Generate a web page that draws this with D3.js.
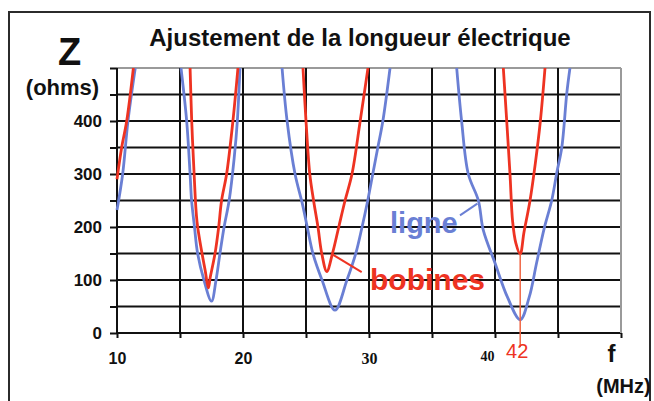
<!DOCTYPE html>
<html>
<head>
<meta charset="utf-8">
<script src="https://cdn.jsdelivr.net/npm/d3@7"></script>
<style>
  html, body { margin: 0; padding: 0; background: #fff; }
  svg { display: block; font-family: "Liberation Sans", Arial, sans-serif; }
</style>
</head>
<body>
<svg id="chart" width="654" height="401"></svg>
<script>
// Axis ticks and labels
const freqTicks = [10, 15, 20, 25, 30, 35, 40, 45, 50];
const freqLabels = [10, 20, 30, 40];
const zTicks = [0, 50, 100, 150, 200, 250, 300, 350, 400, 450, 500];
const zLabels = [0, 100, 200, 300, 400];

// Impedance of the line alone (null = curve leaves the top of the chart)
const ligneFreq = [10, 10.45, 10.87, 11.45, null,
  15.08, 15.53, 15.8, 15.92, 16.15, 16.4, 16.9, 17.5, 17.86, 18.17, 18.5, 18.9, 19.3, 19.55, 19.76, null,
  23.1, 23.5, 24.13, 24.7, 25.1, 25.55, 26.27, 27.3, 28.25, 28.95, 29.45, 29.9, 30.3, 30.7, 31.1, 31.67, null,
  36.96, 37.35, 37.88, 38.68, 39.07, 40.0, 40.98, 42, 42.72, 43.3, 43.9, 44.5, 44.9, 45.3, 45.7, 45.95];
const ligneZ = [232, 300, 400, 500, null,
  500, 400, 300, 250, 200, 150, 100, 60, 100, 150, 200, 250, 330, 400, 500, null,
  500, 400, 300, 245, 200, 150, 100, 43, 100, 150, 200, 250, 300, 350, 400, 500, null,
  500, 400, 300, 250, 194, 132, 68, 25, 68, 132, 197, 250, 302, 350, 453, 500];

// Impedance with the loading coils
const bobinesFreq = [10, 10.37, 10.77, 11.3, null,
  15.8, 15.93, 16.12, 16.35, 16.75, 17.0, 17.25, 17.4, 17.78, 18.07, 18.3, 18.7, 19.2, 19.6, null,
  24.76, 25.0, 25.3, 25.6, 25.95, 26.25, 26.65, 27.1, 27.6, 28.1, 28.65, 29.3, 29.92, null,
  40.66, 40.93, 41.19, 41.4, 41.65, 42, 42.3, 42.78, 43.2, 43.6, 43.97];
const bobinesZ = [290, 350, 400, 500, null,
  500, 400, 300, 210, 150, 118, 85, 105, 150, 200, 250, 300, 400, 500, null,
  500, 400, 300, 250, 200, 150, 116, 150, 200, 250, 300, 400, 500, null,
  500, 400, 300, 210, 170, 149, 190, 250, 320, 400, 500];

// Marked resonance frequency (MHz)
const markFreq = 42;

const blue = "#6a7fd4";
const red = "#ee3322";
const ink = "#111";

const svg = d3.select("#chart");

const x = d3.scaleLinear().domain([10, 50]).range([117, 621]);
const y = d3.scaleLinear().domain([0, 500]).range([333, 68]);

// Outer frame
svg.append("path")
  .attr("d", "M9,401V12H650V401")
  .attr("fill", "none").attr("stroke", "#2b2b2b").attr("stroke-width", 2);

// Title
svg.append("text")
  .attr("x", 360).attr("y", 46)
  .attr("text-anchor", "middle")
  .attr("font-size", 24).attr("font-weight", "bold").attr("fill", ink)
  .text("Ajustement de la longueur électrique");

// Grid
const grid = svg.append("g");
grid.selectAll("line.h").data(zTicks).join("line")
  .attr("x1", x(10)).attr("x2", x(50))
  .attr("y1", d => y(d)).attr("y2", d => y(d))
  .attr("stroke", d => d === 500 ? "#9a9a9a" : ink)
  .attr("stroke-width", 2);
grid.selectAll("line.v").data(freqTicks).join("line")
  .attr("x1", d => x(d)).attr("x2", d => x(d))
  .attr("y1", y(0)).attr("y2", y(500))
  .attr("stroke", d => d === 50 ? "#9a9a9a" : ink)
  .attr("stroke-width", 2);

// Axes (tick marks and labels only; the grid draws the lines)
const yAxis = svg.append("g")
  .attr("transform", `translate(${x(10)},0)`)
  .call(d3.axisLeft(y).tickValues(zTicks).tickSize(7).tickPadding(8)
    .tickFormat(d => zLabels.includes(d) ? d : ""));
yAxis.select(".domain").remove();
yAxis.selectAll(".tick line").attr("stroke", ink).attr("stroke-width", 2);
yAxis.selectAll(".tick text")
  .attr("font-family", "'Liberation Sans', Arial, sans-serif")
  .attr("font-size", 17).attr("font-weight", "bold").attr("fill", ink);

const xAxis = svg.append("g")
  .attr("transform", `translate(0,${y(0)})`)
  .call(d3.axisBottom(x).tickValues(freqTicks).tickSize(5).tickPadding(15)
    .tickFormat(d => freqLabels.includes(d) ? d : ""));
xAxis.select(".domain").remove();
xAxis.selectAll(".tick line").attr("stroke", ink).attr("stroke-width", 2);
xAxis.selectAll(".tick text")
  .attr("fill", ink).attr("font-weight", "bold")
  .attr("font-family", d => d >= 30 ? "'Liberation Serif', 'Times New Roman', serif" : "'Liberation Sans', Arial, sans-serif")
  .attr("font-size", d => d === 40 ? 14 : d === 30 ? 16 : 16)
  .attr("text-anchor", d => d === 40 ? "end" : "middle")
  .attr("x", d => d === 40 ? -1 : 0)
  .attr("y", d => d === 40 ? 18 : 20);

// Curves, clipped to the plot area
svg.append("defs").append("clipPath").attr("id", "plot")
  .append("rect").attr("x", x(10) - 2).attr("y", y(500))
  .attr("width", x(50) - x(10) + 4).attr("height", y(0) - y(500) + 4);

const line = d3.line()
  .defined(d => d[1] !== null)
  .curve(d3.curveCatmullRom.alpha(0.5))
  .x(d => x(d[0])).y(d => y(d[1]));

const curves = svg.append("g").attr("clip-path", "url(#plot)");

// Vertical marker at the resonance
const markZ = bobinesZ[bobinesFreq.indexOf(markFreq)];
svg.append("line")
  .attr("x1", x(markFreq)).attr("x2", x(markFreq))
  .attr("y1", y(markZ)).attr("y2", y(0) + 14)
  .attr("stroke", "#f06644").attr("stroke-width", 1.5);

curves.append("path")
  .attr("d", line(ligneFreq.map((f, i) => [f, ligneZ[i]])))
  .attr("fill", "none").attr("stroke", blue).attr("stroke-width", 2.8)
  .attr("stroke-linejoin", "round");
curves.append("path")
  .attr("d", line(bobinesFreq.map((f, i) => [f, bobinesZ[i]])))
  .attr("fill", "none").attr("stroke", red).attr("stroke-width", 2.8)
  .attr("stroke-linejoin", "round");

// Series labels with leader lines
svg.append("line")
  .attr("x1", x(37.22)).attr("y1", y(222))
  .attr("x2", x(38.6)).attr("y2", y(244))
  .attr("stroke", blue).attr("stroke-width", 2);
svg.append("text")
  .attr("x", x(31.67)).attr("y", y(188.7))
  .attr("font-size", 29).attr("font-weight", "bold").attr("fill", blue)
  .text("ligne");

svg.append("line")
  .attr("x1", x(27.12)).attr("y1", y(148))
  .attr("x2", x(29.42)).attr("y2", y(115))
  .attr("stroke", red).attr("stroke-width", 2);
svg.append("text")
  .attr("x", x(30.08)).attr("y", y(81))
  .attr("font-size", 30).attr("font-weight", "bold").attr("fill", red)
  .text("bobines");

svg.append("text")
  .attr("x", x(markFreq) - 3).attr("y", 358)
  .attr("text-anchor", "middle")
  .attr("font-size", 20).attr("fill", red)
  .text(markFreq);

// Axis titles
svg.append("text")
  .attr("x", 69.5).attr("y", 65).attr("text-anchor", "middle")
  .attr("font-size", 38).attr("font-weight", "bold").attr("fill", ink)
  .text("Z");
svg.append("text")
  .attr("x", 62.5).attr("y", 95).attr("text-anchor", "middle")
  .attr("font-size", 22).attr("font-weight", "bold").attr("fill", ink)
  .text("(ohms)");
svg.append("text")
  .attr("x", 611.5).attr("y", 362).attr("text-anchor", "middle")
  .attr("font-size", 24).attr("font-weight", "bold").attr("fill", ink)
  .text("f");
svg.append("text")
  .attr("x", 623.5).attr("y", 393).attr("text-anchor", "middle")
  .attr("font-size", 20).attr("font-weight", "bold").attr("fill", ink)
  .text("(MHz)");
</script>
</body>
</html>
